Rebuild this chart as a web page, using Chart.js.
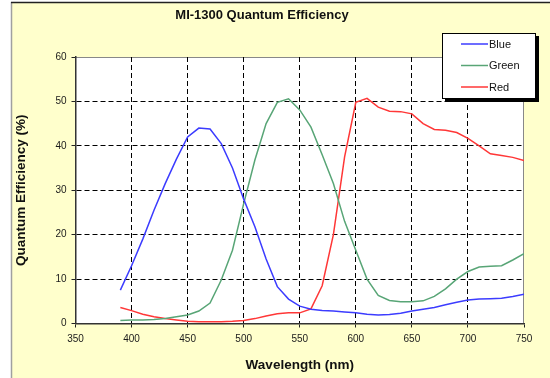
<!DOCTYPE html>
<html>
<head>
<meta charset="utf-8">
<script src="https://cdn.jsdelivr.net/npm/chart.js@4/dist/chart.umd.min.js"></script>
<style>
html,body{margin:0;padding:0;background:#fff;}
#wrap{width:550px;height:378px;}
</style>
</head>
<body>
<div id="wrap"><canvas id="c" width="550" height="378"></canvas></div>
<script>
const wavelengths = [390,400,410,420,430,440,450,460,470,480,490,500,510,520,530,540,550,560,570,580,590,600,610,620,630,640,650,660,670,680,690,700,710,720,730,740,750];
const blueQE  = [7.5,13,19,25.5,31.5,37,42,44,43.8,40.5,35,28,21.8,14.5,8.3,5.5,3.9,3.2,2.9,2.8,2.6,2.4,2.1,1.9,2.0,2.3,2.8,3.2,3.6,4.2,4.8,5.3,5.5,5.6,5.7,6.1,6.6];
const greenQE = [0.7,0.8,0.8,0.9,1.1,1.5,1.9,2.8,4.6,9.8,16.5,27,36.8,45,49.8,50.6,48.1,44.2,38,31.5,23,16.5,10,6.3,5.2,4.9,4.9,5.1,6.1,7.8,10,11.7,12.7,12.9,13,14.3,15.7];
const redQE   = [3.6,2.9,2.1,1.5,1.1,0.8,0.5,0.4,0.4,0.4,0.5,0.7,1.1,1.7,2.2,2.4,2.4,3.3,8.5,20,37.5,49.8,50.7,48.7,47.8,47.7,47.2,45,43.7,43.5,43,41.7,40,38.2,37.8,37.4,36.7];
const seriesNames = ["Blue","Green","Red"];
const seriesColors = ["rgb(60,60,255)","rgb(88,165,118)","rgb(255,55,55)"];
const xTicks = [350,400,450,500,550,600,650,700,750];
const yTicks = [0,10,20,30,40,50,60];

const FONT = "'Liberation Sans', Arial, sans-serif";
const toPts = arr => wavelengths.map((w,i)=>({x:w,y:arr[i]}));

const framePlugin = {
  id:'frame',
  beforeDraw(chart){
    const ctx = chart.ctx, a = chart.chartArea;
    ctx.save();
    ctx.fillStyle = '#ffffff';
    ctx.fillRect(0,0,chart.width,chart.height);
    ctx.fillStyle = '#ffffcc';
    ctx.fillRect(11,2,chart.width-11,chart.height-2);
    ctx.strokeStyle = '#a0a0a0';
    ctx.lineWidth = 1.5;
    ctx.beginPath(); ctx.moveTo(11.5,2); ctx.lineTo(11.5,chart.height); ctx.stroke();
    ctx.strokeStyle = '#222';
    ctx.beginPath(); ctx.moveTo(11,2.5); ctx.lineTo(chart.width,2.5); ctx.stroke();
    ctx.fillStyle = '#ffffff';
    ctx.fillRect(a.left,a.top,a.right-a.left,a.bottom-a.top);
    ctx.strokeStyle = '#888';
    ctx.lineWidth = 1;
    ctx.beginPath();
    ctx.moveTo(a.left, a.top+0.5); ctx.lineTo(a.right-0.5, a.top+0.5); ctx.lineTo(a.right-0.5, a.bottom);
    ctx.stroke();
    ctx.restore();
  }
};

const legendPlugin = {
  id:'boxLegend',
  afterDraw(chart){
    const ctx = chart.ctx;
    const x0 = 442, y0 = 33, w = 94, h = 66;
    ctx.save();
    ctx.fillStyle = '#000';
    ctx.fillRect(x0+3, y0+3, w, h);
    ctx.fillStyle = '#fff';
    ctx.fillRect(x0, y0, w, h);
    ctx.strokeStyle = '#000';
    ctx.lineWidth = 1;
    ctx.strokeRect(x0+0.5, y0+0.5, w-1, h-1);
    ctx.font = "11px " + FONT;
    ctx.textBaseline = 'middle';
    chart.data.datasets.forEach((ds,i)=>{
      const y = 44 + i*21.5;
      ctx.strokeStyle = ds.borderColor;
      ctx.lineWidth = 1.5;
      ctx.beginPath(); ctx.moveTo(461,y); ctx.lineTo(488,y); ctx.stroke();
      ctx.fillStyle = '#111';
      ctx.fillText(ds.label, 489, y+0.5);
    });
    ctx.restore();
  }
};

new Chart(document.getElementById('c'), {
  type:'line',
  data:{
    datasets: [blueQE, greenQE, redQE].map((arr,i)=>({
      label: seriesNames[i],
      data: toPts(arr),
      borderColor: seriesColors[i],
      backgroundColor: seriesColors[i],
      borderWidth: 1.5,
      pointRadius: 0,
      tension: 0,
      fill: false
    }))
  },
  options:{
    responsive:false,
    animation:false,
    devicePixelRatio:1,
    layout:{padding:{left:0,right:26,top:0,bottom:0}},
    plugins:{
      legend:{display:false},
      tooltip:{enabled:false},
      title:{
        display:true,
        text:'MI-1300 Quantum Efficiency',
        color:'#111',
        font:{family:FONT,size:13,weight:'bold'},
        padding:{top:7.2,bottom:34.2}
      }
    },
    scales:{
      x:{
        type:'linear', min:350, max:750,
        afterBuildTicks: s => { s.ticks = xTicks.map(v=>({value:v})); },
        afterFit: s => { s.height = 54.5; },
        ticks:{color:'#1a1a1a', font:{family:FONT,size:10}, padding:6, maxRotation:0},
        grid:{
          color: c => (c.tick && (c.tick.value===350 || c.tick.value===750)) ? 'rgba(0,0,0,0)' : '#000',
          lineWidth:1, tickLength:4, tickColor:'#222', tickBorderDash:[], drawTicks:true
        },
        border:{display:true, color:'#333', width:1.5, dash:[5,3]},
        title:{display:true, text:'Wavelength (nm)', color:'#111', font:{family:FONT,size:13.5,weight:'bold'}, padding:{top:0,bottom:5}}
      },
      y:{
        min:0, max:60,
        afterBuildTicks: s => { s.ticks = yTicks.map(v=>({value:v})); },
        afterFit: s => { s.width = 75.5; },
        ticks:{color:'#1a1a1a', font:{family:FONT,size:10}, padding:5},
        grid:{
          color: c => (c.tick && (c.tick.value===0 || c.tick.value===60)) ? 'rgba(0,0,0,0)' : '#000',
          lineWidth:1, tickLength:4, tickColor:'#222', tickBorderDash:[], drawTicks:true
        },
        border:{display:true, color:'#333', width:1.5, dash:[5,3]},
        title:{display:true, text:'Quantum Efficiency (%)', color:'#111', font:{family:FONT,size:13.5,weight:'bold'}, padding:{top:13,bottom:0}}
      }
    }
  },
  plugins:[framePlugin, legendPlugin]
});
</script>
</body>
</html>
